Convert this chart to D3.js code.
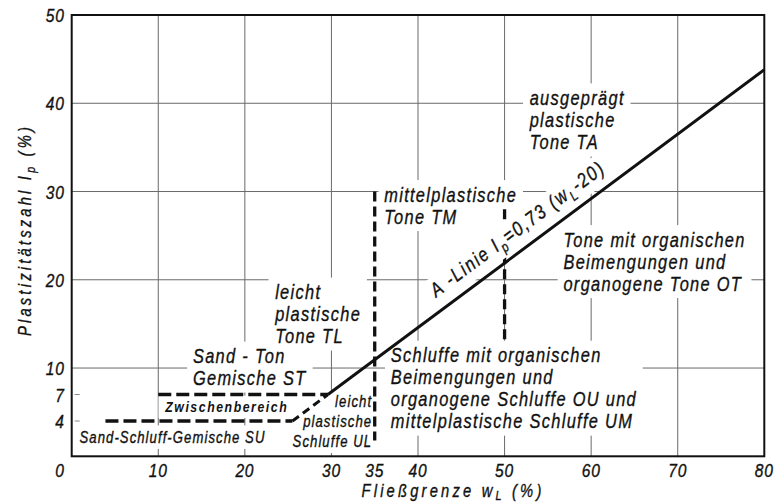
<!DOCTYPE html>
<html>
<head>
<meta charset="utf-8">
<script src="https://cdn.jsdelivr.net/npm/d3@7/dist/d3.min.js"></script>
<style>
    html, body { margin: 0; padding: 0; background: #fff; }
    svg text {
        font-family: 'Liberation Sans', Arial, sans-serif;
        font-style: italic;
        fill: #111;
        stroke: #111;
        stroke-width: 0.35px;
    }
    .big { font-size: 20px; letter-spacing: 1.6px; }
    .alab { font-size: 20px; letter-spacing: 2.2px; }
    .small { font-size: 16px; letter-spacing: 1.3px; }
    .zw { font-size: 15px; letter-spacing: 1.9px; font-weight: bold; stroke-width: 0; }
    .tick { font-size: 19px; letter-spacing: 1px; }
    .title { font-size: 18px; letter-spacing: 3.9px; }
</style>
</head>
<body>
<div id="chart"></div>
<script>
// Plasticity chart (DIN 18196) - Fliessgrenze vs. Plastizitaetszahl

const xTicks = [10, 20, 30, 35, 40, 50, 60, 70, 80];
const yTicks = [4, 7, 10, 20, 30, 40, 50];
const xGrid = [10, 20, 30, 40, 50, 60, 70];
const yGrid = [10, 20, 30, 40];
const yMinorTicks = [4, 7];

// A-Linie Ip = 0.73 (wL - 20): dashed part then solid part, [wL, Ip]
const aLineDashed = [[25.5, 4], [29.6, 7]];
const aLineSolid = [[29.6, 7], [80, 43.8]];

// dashed boundaries
const hBounds = [
    { w0: 3.9, w1: 25.5, ip: 4 },
    { w0: 10, w1: 29.6, ip: 7 },
];
const vBounds = [
    { w: 35, ip0: 1.8, ip1: 30 },
    { w: 50, ip0: 12.8, ip1: 28 },
];

// region labels, anchored at first baseline (wL, Ip)
const regionLabels = [
    { lines: ['ausgeprägt', 'plastische', 'Tone TA'], w: 52.9, ip: 39.8, cls: 'big' },
    { lines: ['mittelplastische', 'Tone TM'], w: 36.1, ip: 28.85, cls: 'big' },
    { lines: ['Tone mit organischen', 'Beimengungen und', 'organogene Tone OT'], w: 56.8, ip: 23.75, cls: 'big' },
    { lines: ['leicht', 'plastische', 'Tone TL'], w: 23.5, ip: 17.8, cls: 'big' },
    { lines: ['Sand - Ton', 'Gemische ST'], w: 14.0, ip: 10.55, cls: 'big' },
    { lines: ['Schluffe mit organischen', 'Beimengungen und', 'organogene Schluffe OU und', 'mittelplastische Schluffe UM'], w: 36.85, ip: 10.65, cls: 'big' },
    { lines: ['Zwischenbereich'], w: 10.8, ip: 5.05, cls: 'zw' },
    { lines: ['Sand-Schluff-Gemische SU'], w: 0.9, ip: 1.55, cls: 'small' },
    { lines: ['leicht', 'plastische', 'Schluffe UL'], w: 34.7, ip: 5.55, cls: 'small', anchor: 'end' },
];
const aLabelAt = 43; // wL where the A-Linie label starts

const width = 781, height = 503;
const lineHeight = { big: 22, small: 19.7, zw: 19 };
const narrow = 0.82; // drafting lettering is narrow

const x = d3.scaleLinear().domain([0, 80]).range([71.7, 764.3]);
const y = d3.scaleLinear().domain([0, 50]).range([456.3, 15]);

const svg = d3.select('#chart').append('svg')
    .attr('width', width)
    .attr('height', height);

const gridLayer = svg.append('g');
const maskLayer = svg.append('g');
const boundLayer = svg.append('g');
const aMaskLayer = svg.append('g');
const aLineLayer = svg.append('g');
const textLayer = svg.append('g');

// narrow text placed at px, py
function narrowText(parent, px, py, cls, extra) {
    const tf = `translate(${px},${py}) ${extra || ''} scale(${narrow},1)`;
    return parent.append('text')
        .attr('class', cls)
        .attr('transform', tf);
}

function maskBehind(layer, textSel, padX, padY) {
    const bb = textSel.node().getBBox();
    layer.append('rect')
        .attr('transform', textSel.attr('transform'))
        .attr('x', bb.x - padX).attr('y', bb.y - padY)
        .attr('width', bb.width + 2 * padX).attr('height', bb.height + 2 * padY)
        .attr('fill', '#fff');
}

// grid
gridLayer.selectAll('.vg').data(xGrid).enter().append('line')
    .attr('x1', d => x(d)).attr('x2', d => x(d))
    .attr('y1', y(0)).attr('y2', y(50))
    .attr('stroke', '#6a6a6a').attr('stroke-width', 1);

gridLayer.selectAll('.hg').data(yGrid).enter().append('line')
    .attr('x1', x(0)).attr('x2', x(80))
    .attr('y1', d => y(d)).attr('y2', d => y(d))
    .attr('stroke', '#6a6a6a').attr('stroke-width', 1);

gridLayer.selectAll('.mt').data(yMinorTicks).enter().append('line')
    .attr('x1', x(0) + 3).attr('x2', x(0) + 8)
    .attr('y1', d => y(d)).attr('y2', d => y(d))
    .attr('stroke', '#888').attr('stroke-width', 1);

// region labels with white boxes behind them
regionLabels.forEach(lab => {
    const t = narrowText(textLayer, x(lab.w), y(lab.ip), lab.cls)
        .attr('text-anchor', lab.anchor || 'start');
    lab.lines.forEach((ln, i) => {
        t.append('tspan')
            .attr('x', 0)
            .attr('y', i * lineHeight[lab.cls])
            .text(ln);
    });
    maskBehind(maskLayer, t, 7, 3);
});

// A-Linie label, rotated along the line
const ipOnLine = d3.scaleLinear()
    .domain([aLineSolid[0][0], aLineSolid[1][0]])
    .range([aLineSolid[0][1], aLineSolid[1][1]]);
const angle = Math.atan2(
    y(aLineSolid[1][1]) - y(aLineSolid[0][1]),
    x(aLineSolid[1][0]) - x(aLineSolid[0][0])
) * 180 / Math.PI;

const aText = narrowText(textLayer, x(aLabelAt), y(ipOnLine(aLabelAt)), 'alab', `rotate(${angle}) translate(0,-13)`);
aText.append('tspan').text('A -Linie I');
aText.append('tspan').attr('dy', 5).style('font-size', '14px').text('p');
aText.append('tspan').attr('dy', -5).text('=0,73 (w');
aText.append('tspan').attr('dy', 5).style('font-size', '14px').text('L');
aText.append('tspan').attr('dy', -5).text('-20)');
maskBehind(aMaskLayer, aText, 3, 1);

// boundaries
const line = d3.line().x(d => x(d[0])).y(d => y(d[1]));

boundLayer.selectAll('.hb').data(hBounds).enter().append('line')
    .attr('x1', d => x(d.w0)).attr('x2', d => x(d.w1))
    .attr('y1', d => y(d.ip)).attr('y2', d => y(d.ip))
    .attr('stroke', '#111').attr('stroke-width', 3.3)
    .attr('stroke-dasharray', '13 5');

boundLayer.selectAll('.vb').data(vBounds).enter().append('line')
    .attr('x1', d => x(d.w)).attr('x2', d => x(d.w))
    .attr('y1', d => y(d.ip1)).attr('y2', d => y(d.ip0))
    .attr('stroke', '#111').attr('stroke-width', 3.3)
    .attr('stroke-dasharray', '10 5');

aLineLayer.append('path')
    .datum(aLineDashed)
    .attr('fill', 'none')
    .attr('stroke', '#111').attr('stroke-width', 3)
    .attr('stroke-dasharray', '8 5')
    .attr('d', line);

aLineLayer.append('path')
    .datum(aLineSolid)
    .attr('fill', 'none')
    .attr('stroke', '#111').attr('stroke-width', 3)
    .attr('d', line);

// frame
svg.append('rect')
    .attr('x', x(0)).attr('y', y(50))
    .attr('width', x(80) - x(0)).attr('height', y(0) - y(50))
    .attr('fill', 'none')
    .attr('stroke', '#111').attr('stroke-width', 2);

// tick labels
xTicks.forEach(d => {
    narrowText(svg, x(d), 477, 'tick')
        .attr('text-anchor', 'middle')
        .text(d);
});

narrowText(svg, x(0) - 7, 477, 'tick')
    .attr('text-anchor', 'end')
    .text('0');

yTicks.forEach(d => {
    narrowText(svg, x(0) - 7, y(d) + 7, 'tick')
        .attr('text-anchor', 'end')
        .text(d);
});

// axis titles
const xTitle = narrowText(svg, 453, 497, 'title')
    .attr('text-anchor', 'middle');
xTitle.append('tspan').text('Fließgrenze w');
xTitle.append('tspan').attr('dy', 3).style('font-size', '13px').text('L');
xTitle.append('tspan').attr('dy', -3).text(' (%)');

const yTitle = narrowText(svg, 31, 230, 'title', 'rotate(-90)')
    .attr('text-anchor', 'middle');
yTitle.append('tspan').text('Plastizitätszahl I');
yTitle.append('tspan').attr('dy', 4).style('font-size', '13px').text('p');
yTitle.append('tspan').attr('dy', -4).text(' (%)');
</script>
</body>
</html>
